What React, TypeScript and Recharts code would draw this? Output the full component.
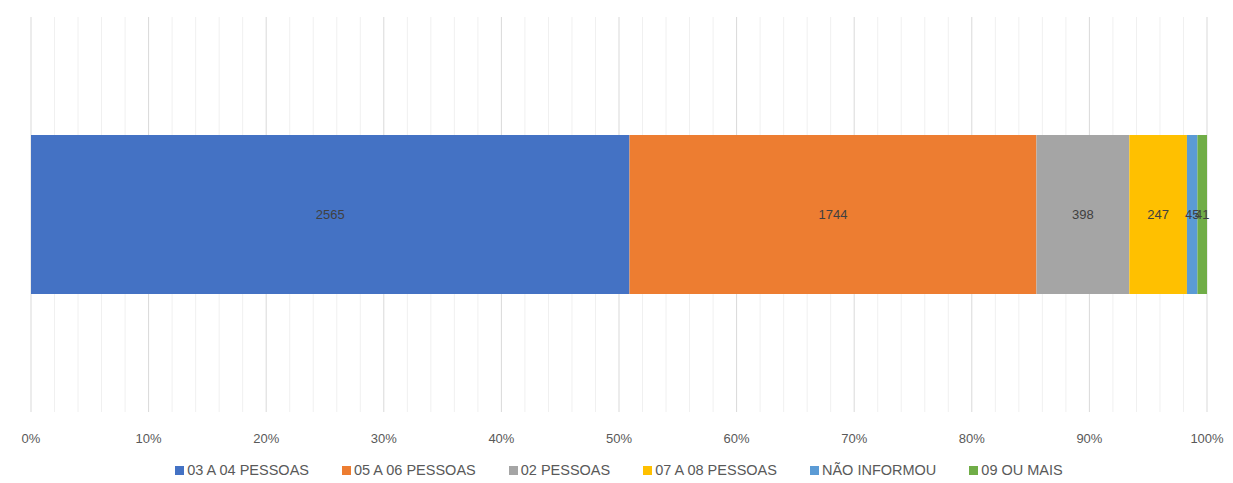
import React from 'react';
import {
    Bar,
    BarChart,
    CartesianGrid,
    LabelList,
    Legend,
    XAxis,
    YAxis,
} from 'recharts';

const category = 'Total';
const seriesNames = [
    '03 A 04 PESSOAS',
    '05 A 06 PESSOAS',
    '02 PESSOAS',
    '07 A 08 PESSOAS',
    'NÃO INFORMOU',
    '09 OU MAIS',
];
const seriesValues = [2565, 1744, 398, 247, 45, 41];
const seriesColors = ['#4472C4', '#ED7D31', '#A5A5A5', '#FFC000', '#5B9BD5', '#70AD47'];
const xTicks = [0, 0.1, 0.2, 0.3, 0.4, 0.5, 0.6, 0.7, 0.8, 0.9, 1];
const minorGrid = [
    0.02, 0.04, 0.06, 0.08, 0.12, 0.14, 0.16, 0.18, 0.22, 0.24, 0.26, 0.28,
    0.32, 0.34, 0.36, 0.38, 0.42, 0.44, 0.46, 0.48, 0.52, 0.54, 0.56, 0.58,
    0.62, 0.64, 0.66, 0.68, 0.72, 0.74, 0.76, 0.78, 0.82, 0.84, 0.86, 0.88,
    0.92, 0.94, 0.96, 0.98,
];

const row: Record<string, string | number> = { name: category };
seriesNames.forEach((n, i) => {
    row[n] = seriesValues[i];
});
const data = [row];

const font = "'Liberation Sans', Arial, sans-serif";

function renderLegend(props: any) {
    const { payload } = props;
    const items = [...payload].sort(
        (a: any, b: any) => seriesNames.indexOf(a.value) - seriesNames.indexOf(b.value)
    );
    return (
        <div style={{ display: 'flex', justifyContent: 'center', fontFamily: font, fontSize: 14.5, color: '#595959' }}>
            {items.map((entry: any, i: number) => (
                <div
                    key={entry.value}
                    style={{ display: 'flex', alignItems: 'center', marginRight: i === items.length - 1 ? 0 : 33 }}
                >
                    <span style={{ width: 9, height: 9, background: entry.color, marginRight: 3, display: 'inline-block' }} />
                    <span>{entry.value}</span>
                </div>
            ))}
        </div>
    );
}

// grid positions along the 0..1 value axis
const gridAt = (values: number[]) => (props: any) => {
    const scale = props.xAxis?.scale;
    if (typeof scale === 'function') return values.map((v) => scale(v));
    const { offset } = props;
    return values.map((v) => offset.left + v * offset.width);
};

export default function App() {
    return (
        <div style={{ position: 'absolute', left: 0, top: 0, background: '#fff' }}>
            <BarChart
                width={1233}
                height={483}
                data={data}
                layout='vertical'
                stackOffset='expand'
                margin={{ top: 17, right: 26, left: 31, bottom: 5 }}
            >
                <CartesianGrid
                    horizontal={false}
                    stroke='#f0f0f0'
                    verticalCoordinatesGenerator={gridAt(minorGrid)}
                />
                <CartesianGrid
                    horizontal={false}
                    stroke='#d9d9d9'
                    verticalCoordinatesGenerator={gridAt(xTicks)}
                />
                <XAxis
                    type='number'
                    domain={[0, 1]}
                    ticks={xTicks}
                    tickFormatter={(v: number) => `${Math.round(v * 100)}%`}
                    axisLine={false}
                    tickLine={false}
                    tickMargin={16}
                    height={50}
                    tick={{ fill: '#595959', fontSize: 13, fontFamily: font }}
                />
                <YAxis type='category' dataKey='name' hide />
                <Legend verticalAlign='bottom' content={renderLegend} />
                {seriesNames.map((n, i) => (
                    <Bar
                        key={n}
                        dataKey={n}
                        stackId='a'
                        fill={seriesColors[i]}
                        barSize={159}
                        isAnimationActive={false}
                    >
                        <LabelList
                            dataKey={n}
                            position='center'
                            fill='#404040'
                            fontSize={13}
                            fontFamily={font}
                        />
                    </Bar>
                ))}
            </BarChart>
        </div>
    );
}
